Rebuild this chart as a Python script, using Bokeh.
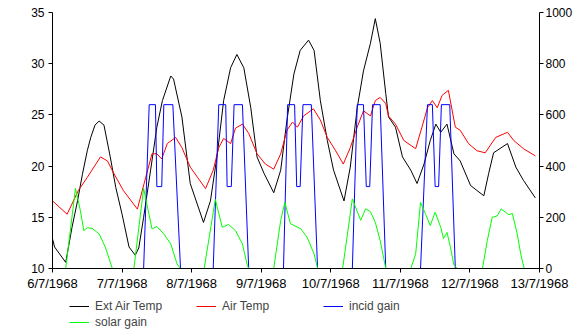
from bokeh.plotting import figure
from bokeh.models import Range1d, LinearAxis, FixedTicker, Legend, LegendItem
from bokeh.layouts import column
from bokeh.embed import file_html
from bokeh.resources import INLINE

# x positions are days since 6/7/1968 00:00
tick_days = [0, 1, 2, 3, 4, 5, 6, 7]
tick_labels = ["6/7/1968", "7/7/1968", "8/7/1968", "9/7/1968",
               "10/7/1968", "11/7/1968", "12/7/1968", "13/7/1968"]

ext_day = [0.00, 0.03, 0.19, 0.28, 0.36, 0.43, 0.50, 0.55, 0.61, 0.67,
           0.74, 0.83, 0.91, 1.00, 1.10, 1.19, 1.24, 1.31, 1.41, 1.50,
           1.58, 1.70, 1.74, 1.86, 1.98, 2.08, 2.17, 2.27, 2.37, 2.46,
           2.56, 2.65, 2.75, 2.85, 2.94, 3.04, 3.18, 3.28, 3.37, 3.47,
           3.56, 3.68, 3.76, 3.85, 3.95, 4.04, 4.19, 4.28, 4.38, 4.47,
           4.57, 4.64, 4.71, 4.79, 4.83, 4.93, 5.03, 5.15, 5.24, 5.34,
           5.43, 5.51, 5.58, 5.67, 5.77, 5.86, 6.01, 6.20, 6.27, 6.34,
           6.54, 6.66, 6.77, 6.94]
ext_temp = [12.9, 12.1, 10.6, 14.0, 16.6, 19.2, 21.5, 22.8, 24.0, 24.4,
            24.0, 20.9, 17.9, 15.3, 12.1, 11.3, 12.0, 15.0, 19.6, 23.8,
            26.4, 28.8, 28.5, 24.8, 18.3, 16.3, 14.5, 16.6, 21.2, 26.4,
            29.6, 30.9, 29.6, 25.7, 20.9, 19.3, 17.4, 19.6, 24.5, 29.0,
            31.3, 32.3, 31.3, 26.4, 22.5, 19.6, 16.6, 19.9, 25.7, 29.3,
            32.0, 34.4, 32.0, 27.1, 24.8, 23.8, 20.9, 19.6, 18.3, 20.2,
            22.5, 24.1, 23.3, 24.1, 21.2, 20.5, 18.1, 17.1, 19.3, 21.3,
            22.2, 19.9, 18.6, 16.9]

air_day = [0.00, 0.21, 0.37, 0.50, 0.69, 0.79, 0.88, 1.02, 1.22, 1.34,
           1.43, 1.50, 1.57, 1.65, 1.77, 1.86, 1.98, 2.20, 2.31, 2.39,
           2.46, 2.56, 2.63, 2.73, 2.82, 2.94, 3.06, 3.18, 3.28, 3.37,
           3.45, 3.52, 3.61, 3.75, 3.85, 3.95, 4.07, 4.18, 4.28, 4.38,
           4.47, 4.57, 4.64, 4.71, 4.79, 4.83, 4.93, 5.05, 5.22, 5.31,
           5.39, 5.46, 5.53, 5.60, 5.69, 5.79, 5.86, 5.98, 6.10, 6.22,
           6.37, 6.54, 6.63, 6.77, 6.94]
air_temp = [16.6, 15.3, 17.6, 18.9, 20.9, 20.5, 19.3, 17.6, 15.8, 18.9,
            21.2, 21.2, 20.7, 22.2, 22.8, 21.8, 19.9, 17.8, 19.6, 21.8,
            22.7, 22.2, 23.7, 24.1, 23.2, 21.2, 20.2, 19.7, 21.2, 23.5,
            24.3, 23.8, 24.9, 25.6, 24.5, 22.8, 21.5, 20.2, 21.8, 23.8,
            25.4, 24.9, 26.4, 26.7, 26.1, 24.9, 24.1, 22.5, 21.7, 23.8,
            25.7, 26.4, 25.7, 26.9, 27.4, 23.8, 23.5, 22.2, 21.5, 21.3,
            22.8, 23.3, 22.5, 21.7, 21.0]

incid_day = [0.00,
             1.31, 1.39, 1.48, 1.50, 1.57, 1.60, 1.73, 1.84,
             2.31, 2.39, 2.49, 2.51, 2.57, 2.61, 2.73, 2.82,
             3.32, 3.38, 3.48, 3.51, 3.56, 3.60, 3.72, 3.81,
             4.31, 4.38, 4.47, 4.51, 4.56, 4.60, 4.71, 4.79,
             5.29, 5.39, 5.46, 5.50, 5.55, 5.59, 5.71, 5.79,
             7.00]
incid_gain = [0,
              0, 640, 640, 320, 320, 640, 640, 0,
              0, 640, 640, 320, 320, 640, 640, 0,
              0, 640, 640, 320, 320, 640, 640, 0,
              0, 640, 640, 320, 320, 640, 640, 0,
              0, 640, 640, 320, 320, 640, 640, 0,
              0]

solar_day = [0.00, 0.19, 0.33, 0.40, 0.45, 0.50, 0.57, 0.67, 0.76, 0.86,
             1.17, 1.31, 1.43, 1.50, 1.60, 1.70, 1.79, 1.84,
             2.18, 2.34, 2.44, 2.53, 2.63, 2.73, 2.80, 2.82,
             3.18, 3.28, 3.34, 3.42, 3.57, 3.66, 3.76, 3.81,
             4.17, 4.24, 4.31, 4.43, 4.50, 4.57, 4.64, 4.71, 4.79,
             5.15, 5.22, 5.29, 5.36, 5.43, 5.50, 5.58, 5.62, 5.67, 5.72, 5.77, 5.82,
             6.18, 6.25, 6.32, 6.39, 6.45, 6.51, 6.56, 6.61, 6.68, 6.73, 6.78,
             7.00]
solar_gain = [0, 0, 313, 227, 148, 159, 157, 135, 83, 0,
              0, 313, 155, 164, 135, 96, 18, 0,
              0, 270, 161, 172, 148, 96, 13, 0,
              0, 188, 258, 175, 155, 122, 57, 0,
              0, 135, 272, 188, 233, 222, 180, 109, 0,
              0, 57, 258, 214, 168, 220, 161, 117, 141, 83, 13, 0,
              0, 109, 200, 205, 233, 220, 210, 215, 135, 57, 0,
              0]

left_ticks = [10, 15, 20, 25, 30, 35]
right_ticks = [0, 200, 400, 600, 800, 1000]

series_names = ["Ext Air Temp", "Air Temp", "incid gain", "solar gain"]
series_colors = ["black", "#ff0000", "#0000ff", "#00ff00"]

FONT = "Liberation Sans"

p = figure(frame_width=487, frame_height=256, x_range=Range1d(0, 7), y_range=Range1d(10, 35),
           output_backend="svg", toolbar_location=None,
           min_border_left=52, min_border_right=41, min_border_top=12, min_border_bottom=24)
p.extra_y_ranges = {"gain": Range1d(0, 1000)}
p.outline_line_color = None
p.xgrid.visible = False
p.ygrid.visible = False
p.background_fill_color = "white"
p.border_fill_color = "white"

p.line(ext_day, ext_temp, line_color=series_colors[0], line_width=1)
p.line(air_day, air_temp, line_color=series_colors[1], line_width=1)
p.line(incid_day, incid_gain, line_color=series_colors[2], line_width=1, y_range_name="gain")
p.line(solar_day, solar_gain, line_color=series_colors[3], line_width=1, y_range_name="gain")

xa = p.xaxis[0]
xa.ticker = FixedTicker(ticks=tick_days)
xa.major_label_overrides = {d: lab for d, lab in zip(tick_days, tick_labels)}
xa.major_label_standoff = 3

ya = p.yaxis[0]
ya.ticker = FixedTicker(ticks=left_ticks)
ya.major_label_standoff = 4

ra = LinearAxis(y_range_name="gain", ticker=FixedTicker(ticks=right_ticks))
ra.major_label_standoff = 2
p.add_layout(ra, "right")

for ax in (xa, ya, ra):
    ax.axis_line_color = "black"
    ax.major_tick_line_color = "black"
    ax.major_tick_out = 4
    ax.major_tick_in = 0
    ax.minor_tick_line_color = None
    ax.major_label_text_font = FONT
    ax.major_label_text_font_size = "12px"
    ax.major_label_text_color = "black"
xa.major_label_text_font_size = "13px"

# legend strip below the chart (legend-only renderers hold a single NaN point)
lf = figure(width=580, height=40, x_range=Range1d(0, 1), y_range=Range1d(0, 1),
            output_backend="svg", toolbar_location=None, min_border=0,
            x_axis_type=None, y_axis_type=None)
lf.outline_line_color = None
lf.xgrid.visible = False
lf.ygrid.visible = False
items = []
for name, col in zip(series_names, series_colors):
    r = lf.line([float("nan")], [float("nan")], line_color=col, line_width=1)
    items.append(LegendItem(label=name, renderers=[r]))

legend = Legend(items=items, orientation="horizontal", ncols=3, location=(17, 3),
                margin=0, padding=3, spacing=0,
                glyph_width=20, glyph_height=16, label_height=16,
                label_width=101, label_standoff=6,
                label_text_font=FONT, label_text_font_size="12px",
                border_line_color=None, background_fill_alpha=0)
lf.add_layout(legend, "center")

layout = column(p, lf, spacing=0)
open("out.html", "w").write(file_html(layout, INLINE))
